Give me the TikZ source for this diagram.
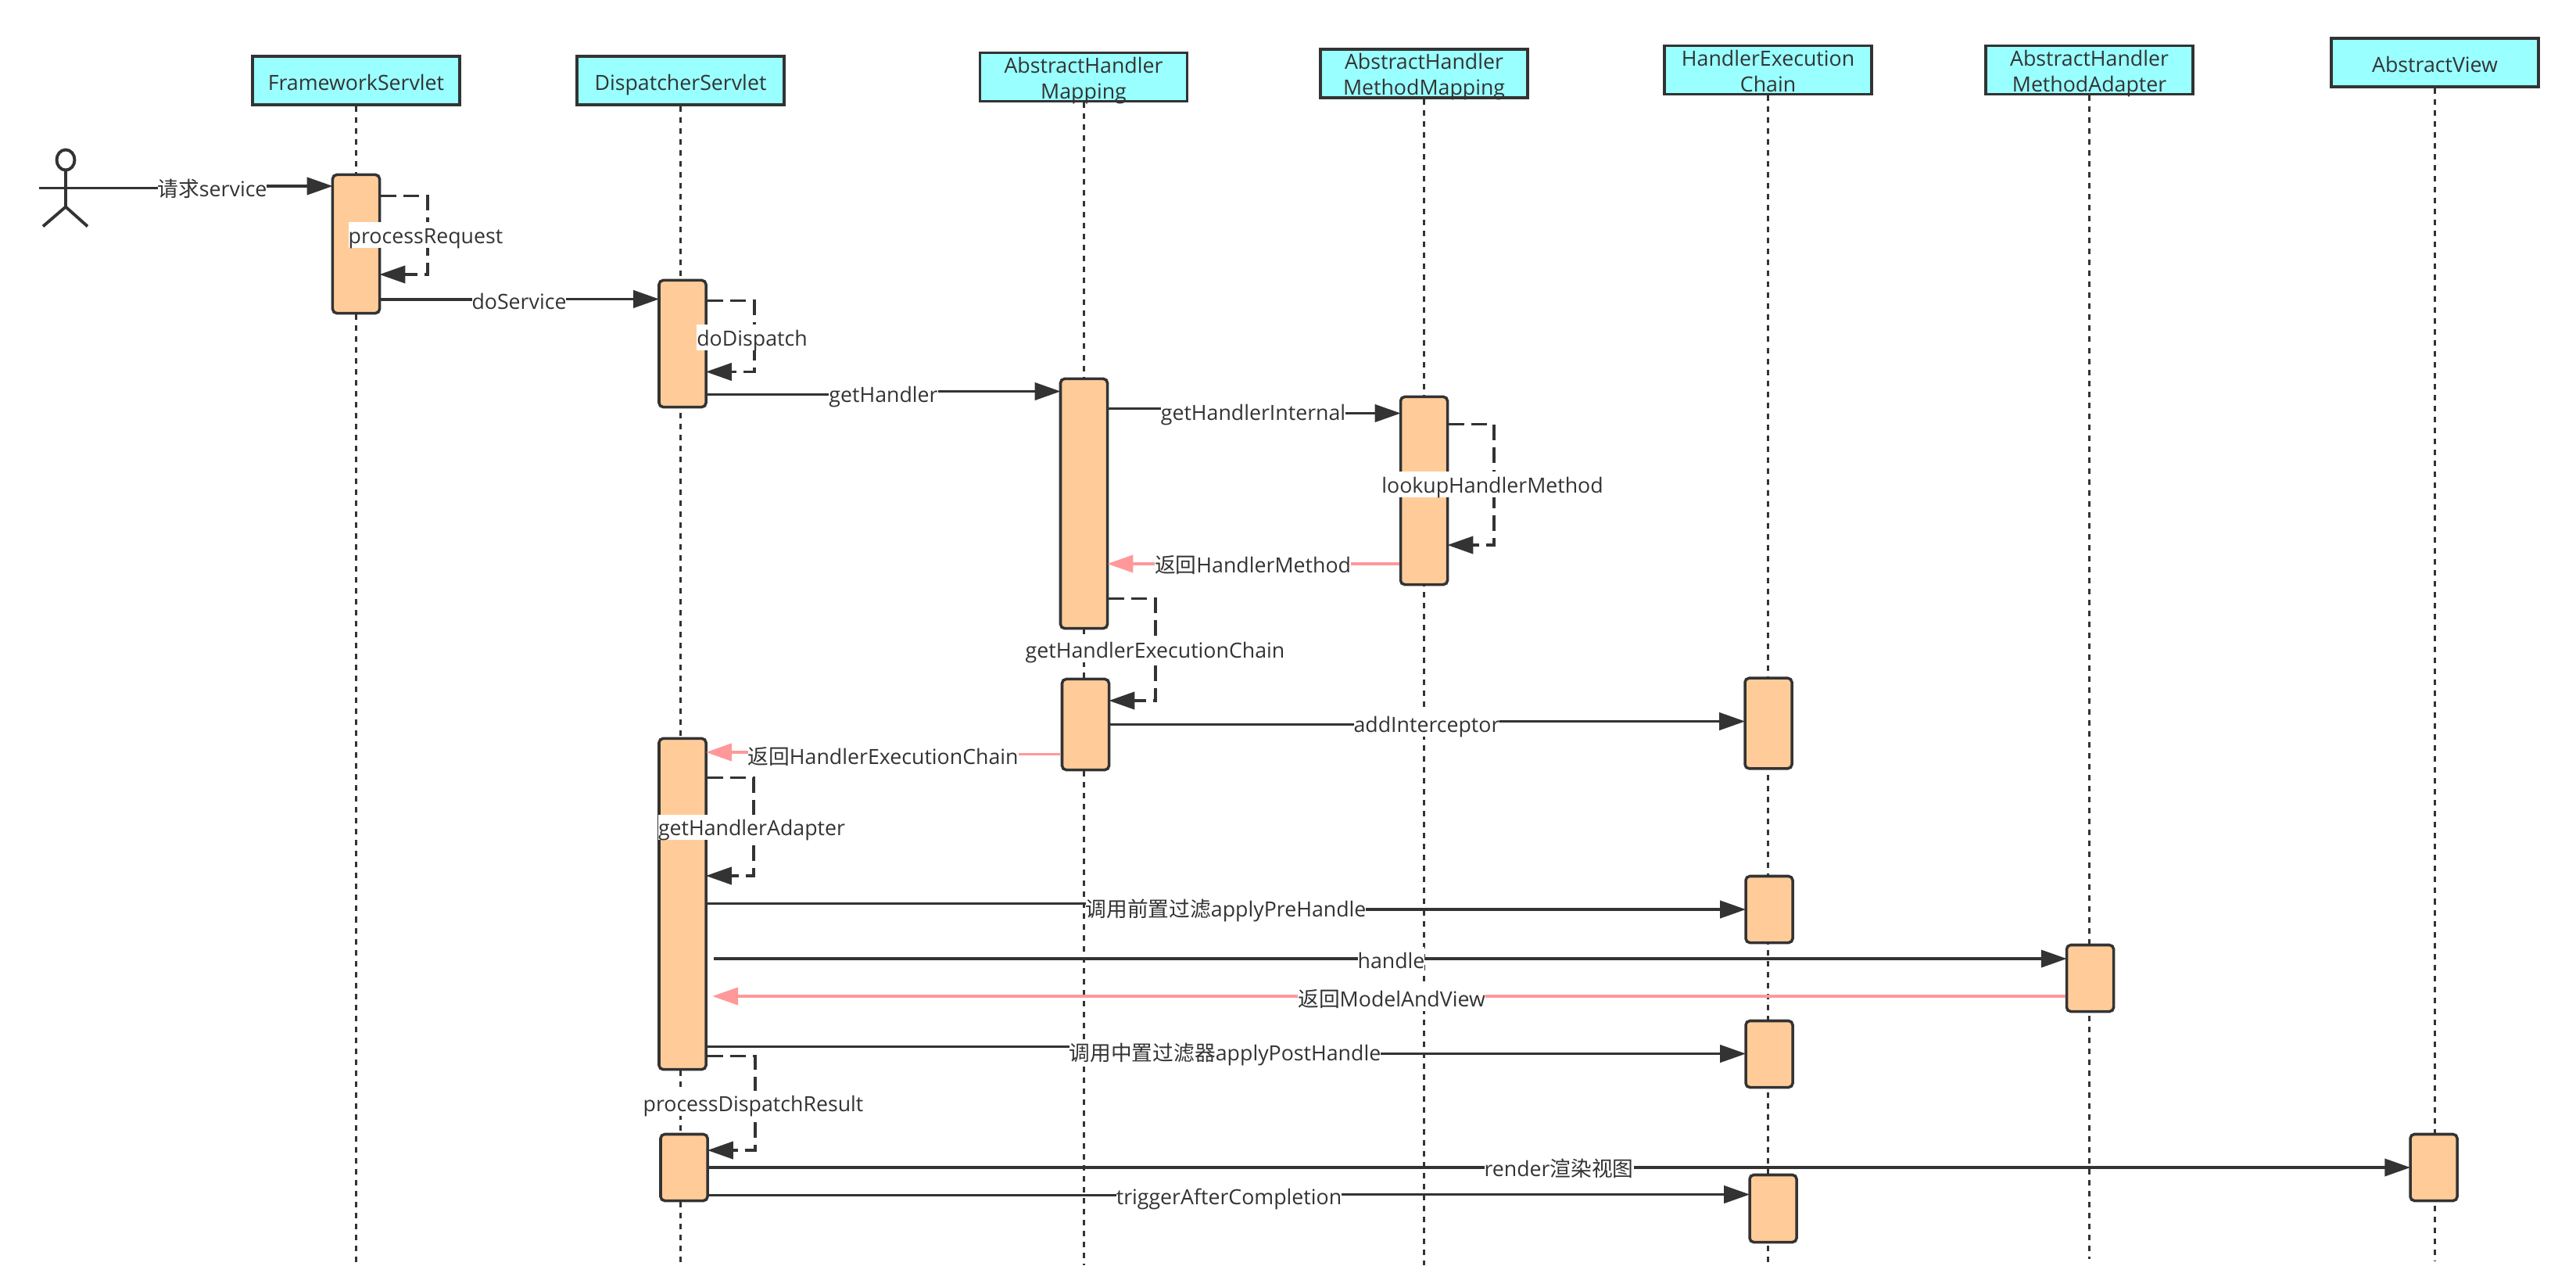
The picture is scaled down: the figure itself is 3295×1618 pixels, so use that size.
\documentclass[tikz,border=0pt]{standalone}
\usepackage{fontspec}
\setmainfont{Open Sans}
\newfontfamily\cjk{Noto Sans CJK SC}
\usetikzlibrary{
    arrows.meta,
    shapes.geometric,
}
\definecolor{headfill}{HTML}{99FFFF}
\definecolor{actfill}{HTML}{FFCC99}
\definecolor{inkdark}{HTML}{333333}
\definecolor{replypink}{HTML}{FF9999}
\tikzset{
    lifehead/.style={draw=inkdark, line width=1pt, fill=headfill, minimum width=2.65cm, minimum height=0.62cm, inner sep=0pt, align=center, text=inkdark, text height=0.24cm, text depth=0pt},
    lifeheadtwo/.style={lifehead, text height=0.55cm},
    activation/.style={draw=inkdark, line width=1pt, fill=actfill, rounded corners=1.5pt, minimum width=0.6cm, inner sep=0pt},
    lifeline/.style={draw=inkdark, line width=0.85pt, dash pattern=on 0.07cm off 0.07cm},
    msgline/.style={draw=inkdark, line width=1.1pt, -{Triangle[length=0.33cm,width=0.22cm]}, color=inkdark, shorten >=-0.02cm},
    replyline/.style={msgline, color=replypink},
    selfline/.style={msgline, dash pattern=on 0.2cm off 0.09cm},
    msglabel/.style={anchor=base, fill=white, inner sep=0pt, text=inkdark, text height=0.27cm, text depth=0.05cm},
    actorline/.style={draw=inkdark, line width=1.1pt},
}
\begin{document}
\begin{tikzpicture}[x=0.01cm, y=-0.01cm, font=\fontsize{7.6}{9.27}\selectfont]
    \useasboundingbox (0,0) rectangle (3295,1618);

    \node[lifehead] (framework) at (455.5,103) {FrameworkServlet};
    \node[lifehead] (dispatcher) at (870.5,103) {DispatcherServlet};
    \node[lifeheadtwo] (mapping) at (1386,98.5) {AbstractHandler\\Mapping};
    \node[lifeheadtwo] (methodmapping) at (1821.5,94) {AbstractHandler\\MethodMapping};
    \node[lifeheadtwo] (chain) at (2261.5,89.5) {HandlerExecution\\Chain};
    \node[lifeheadtwo] (adapter) at (2672.5,89.5) {AbstractHandler\\MethodAdapter};
    \node[lifehead] (view) at (3114.5,80) {AbstractView};

    \draw[lifeline] (framework.south) -- (framework.south |- 0,1618);
    \draw[lifeline] (dispatcher.south) -- (dispatcher.south |- 0,1618);
    \draw[lifeline] (mapping.south) -- (mapping.south |- 0,1618);
    \draw[lifeline] (methodmapping.south) -- (methodmapping.south |- 0,1618);
    \draw[lifeline] (chain.south) -- (chain.south |- 0,1618);
    \draw[lifeline] (adapter.south) -- (adapter.south |- 0,1610);
    \draw[lifeline] (view.south) -- (view.south |- 0,1613);

    \begin{scope}[yshift=-0.015cm]
    \node[ellipse, actorline, minimum width=0.23cm, minimum height=0.26cm, inner sep=0pt] (actorhead) at (84,203) {};
    \coordinate (actorhip) at (84,263);
    \coordinate (actorhand) at (117,239);
    \coordinate (actorarm) at (50,239);
    \draw[actorline] (actorhead.south) -- (actorhip);
    \draw[actorline] (actorarm) -- (actorhand);
    \draw[actorline] (55,288) -- (actorhip) -- (112,288);

    \node[activation, minimum height=1.77cm] (fwact) at (455.5,310.5) {};
    \node[activation, minimum height=1.62cm] (dsact) at (873,438) {};
    \node[activation, minimum height=3.19cm] (mapact) at (1386.5,642.5) {};
    \node[activation, minimum height=2.40cm] (mmact) at (1821.5,626) {};
    \node[activation, minimum height=1.16cm] (mapactb) at (1388.5,925) {};
    \node[activation, minimum height=1.155cm] (chainact) at (2262,923.5) {};
    \node[activation, minimum height=4.23cm] (dsactb) at (873,1154.5) {};
    \node[activation, minimum height=0.85cm] (chainactb) at (2263,1161.5) {};
    \node[activation, minimum height=0.85cm] (adapteract) at (2673.5,1249.5) {};
    \node[activation, minimum height=0.85cm] (chainactc) at (2263,1346.5) {};
    \node[activation, minimum height=0.85cm] (dsactc) at (875,1491.5) {};
    \node[activation, minimum height=0.85cm] (viewact) at (3113,1491.5) {};
    \node[activation, minimum height=0.86cm] (chainactd) at (2268,1544) {};

    \draw[msgline] (actorhand) -- ++(160,0) |- (fwact.west |- 0,236.5);
    \draw[selfline] (fwact.east |- 0,249) -- ++(60,0) |- (fwact.east |- 0,349.5);
    \draw[msgline] (fwact.east |- 0,381.5) -- ++(180,0) |- (dsact.west |- 0,381);
    \draw[selfline] (dsact.east |- 0,383) -- ++(60,0) |- (dsact.east |- 0,474);
    \draw[msgline] (dsact.east |- 0,503) -- ++(230,0) |- (mapact.west |- 0,499);
    \draw[msgline] (mapact.east |- 0,521) -- ++(180,0) |- (mmact.west |- 0,527);
    \draw[selfline] (mmact.east |- 0,541) -- ++(58,0) |- (mmact.east |- 0,695.5);
    \draw[replyline] (mmact.west |- 0,719.5) -- (mapact.east |- 0,719.5);
    \draw[selfline] (mapact.east |- 0,764) -- ++(60,0) |- (mapactb.east |- 0,894.5);
    \draw[msgline] (mapactb.east |- 0,925) -- ++(400,0) |- (chainact.west |- 0,921);
    \draw[replyline] (mapactb.west |- 0,963) -- ++(-200,0) |- (dsactb.east |- 0,960.5);
    \draw[selfline] (dsactb.east |- 0,993) -- ++(59,0) |- (dsactb.east |- 0,1118.5);
    \draw[msgline] (dsactb.east |- 0,1154) -- ++(650,0) |- (chainactb.west |- 0,1161.5);
    \coordinate (handlestart) at (913,1224.5);
    \coordinate (mavend) at (913,1272.5);
    \draw[msgline] (handlestart) -- (adapteract.west |- handlestart);
    \draw[replyline] (adapteract.west |- mavend) -- (mavend);
    \draw[msgline] (dsactb.east |- 0,1337) -- ++(650,0) |- (chainactc.west |- 0,1346);
    \draw[selfline] (dsactb.east |- 0,1349) -- ++(61,0) |- (dsactc.east |- 0,1469.5);
    \draw[msgline] (dsactc.east |- 0,1491.5) -- (viewact.west |- 0,1491.5);
    \draw[msgline] (dsactc.east |- 0,1527) -- ++(650,0) |- (chainactd.west |- 0,1526);

    \node[msglabel] (lbservice) at (271.5,250) {{\cjk 请求}service};
    \node[msglabel] (lbprocess) at (544.5,310) {processRequest};
    \node[msglabel] (lbdoservice) at (664,394) {doService};
    \node[msglabel] (lbdispatch) at (962,441) {doDispatch};
    \node[msglabel] (lbgethandler) at (1130,513) {getHandler};
    \node[msglabel] (lbinternal) at (1603,536) {getHandlerInternal};
    \node[msglabel] (lblookup) at (1909,629) {lookupHandlerMethod};
    \node[msglabel] (lbbackmethod) at (1602.5,731) {{\cjk 返回}HandlerMethod};
    \node[msglabel] (lbexecchain) at (1477.5,840) {getHandlerExecutionChain};
    \node[msglabel] (lbintercept) at (1825,935) {addInterceptor};
    \node[msglabel] (lbbackchain) at (1129.5,975.5) {{\cjk 返回}HandlerExecutionChain};
    \node[msglabel] (lbadapter) at (961.5,1067) {getHandlerAdapter};
    \node[msglabel] (lbprehandle) at (1568,1171) {{\cjk 调用前置过滤}applyPreHandle};
    \node[msglabel] (lbhandle) at (1779.5,1236.5) {handle};
    \node[msglabel] (lbbackmav) at (1780,1286) {{\cjk 返回}ModelAndView};
    \node[msglabel] (lbposthandle) at (1567,1355) {{\cjk 调用中置过滤器}applyPostHandle};
    \node[msglabel] (lbresult) at (963.5,1420) {processDispatchResult};
    \node[msglabel] (lbrender) at (1994,1503) {render{\cjk 渲染视图}};
    \node[msglabel] (lbtrigger) at (1572,1539) {triggerAfterCompletion};
    \end{scope}
\end{tikzpicture}
\end{document}
